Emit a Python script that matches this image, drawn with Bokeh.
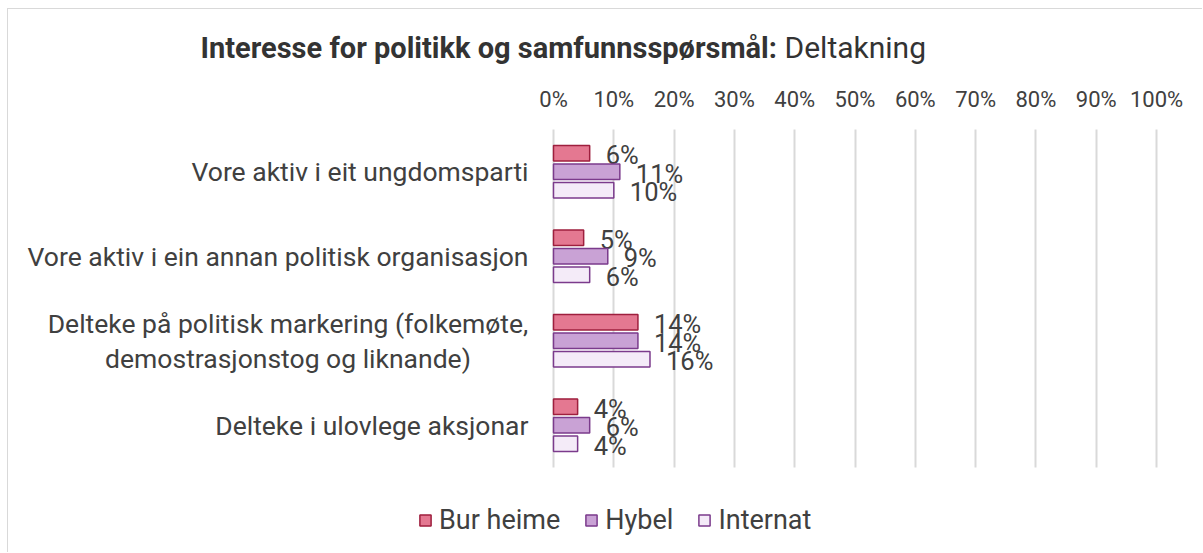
from bokeh.plotting import figure
from bokeh.models import (Range1d, FixedTicker, PrintfTickFormatter, Label,
                          ColumnDataSource, Legend, LegendItem)
from bokeh.transform import dodge
from bokeh.core.properties import value
from bokeh.embed import file_html
from bokeh.resources import INLINE

# ---- data ----
categories = [
    "Vore aktiv i eit ungdomsparti",
    "Vore aktiv i ein annan politisk organisasjon",
    "Delteke på politisk markering (folkemøte,\ndemostrasjonstog og liknande)",
    "Delteke i ulovlege aksjonar",
]
series_names = ["Bur heime", "Hybel", "Internat"]
bur_heime = [6, 5, 14, 4]
hybel = [11, 9, 14, 6]
internat = [10, 6, 16, 4]
x_ticks = [0, 10, 20, 30, 40, 50, 60, 70, 80, 90, 100]
title_bold = "Interesse for politikk og samfunnsspørsmål:"
title_rest = "Deltakning"

FONT = "Roboto"
TXT = "#404040"

n = len(categories)
ypos = [n - 1 - i for i in range(n)]  # first category on top

p = figure(width=1195, height=544, output_backend="svg", toolbar_location=None,
           x_range=Range1d(-90.38, 107.79), y_range=Range1d(-1.518, 4.920),
           x_axis_location="above",
           min_border_left=0, min_border_right=0, min_border_top=0, min_border_bottom=0)
p.styles = {"margin-left": "7px", "margin-top": "8px",
            "border-left": "1px solid #d9d9d9", "border-top": "1px solid #d9d9d9"}
p.outline_line_color = None
p.background_fill_color = "white"
p.border_fill_color = "white"

# axes
xa = p.xaxis[0]
xa.fixed_location = n - 0.5
xa.ticker = FixedTicker(ticks=x_ticks)
xa.formatter = PrintfTickFormatter(format="%d%%")
xa.axis_line_color = None
xa.major_tick_line_color = None
xa.minor_tick_line_color = None
xa.major_tick_out = 0
xa.major_label_text_font = FONT
xa.major_label_text_font_size = "22px"
xa.major_label_text_color = TXT
xa.major_label_standoff = 17

# single-line category labels on the axis; multi-line ones drawn centred beside it
ya = p.yaxis[0]
ya.fixed_location = 0
ya.ticker = FixedTicker(ticks=ypos)
ya.major_label_overrides = {y: ("" if "\n" in c else c) for y, c in zip(ypos, categories)}
ya.axis_line_color = None
ya.major_tick_line_color = None
ya.minor_tick_line_color = None
ya.major_tick_out = 0
ya.major_label_text_font = FONT
ya.major_label_text_font_size = "26.5px"
ya.major_label_text_color = TXT
ya.major_label_standoff = 25

for y, c in zip(ypos, categories):
    if "\n" in c:
        p.add_layout(Label(x=0, y=y, text=c, x_offset=-265.5, y_offset=0,
                           text_font=FONT, text_font_size="26.5px", text_color=TXT,
                           text_align="center", text_baseline="middle",
                           text_line_height=1.13))

p.ygrid.grid_line_color = None
p.xgrid.ticker = FixedTicker(ticks=x_ticks)
p.xgrid.grid_line_color = "#d9d9d9"
p.xgrid.grid_line_width = 2
p.xgrid.cross_bounds = (-0.5, n - 0.5)

src = ColumnDataSource(dict(y=ypos, bur=bur_heime, hyb=hybel, intn=internat,
                            bur_l=[f"{v}%" for v in bur_heime],
                            hyb_l=[f"{v}%" for v in hybel],
                            intn_l=[f"{v}%" for v in internat]))

specs = [
    ("bur", 0.219, "#E47891", "#9E1F3E"),
    ("hyb", 0.0, "#C9A2D5", "#7B3B8C"),
    ("intn", -0.219, "#F4EBF8", "#7B3B8C"),
]
renderers = []
for col, off, fill, line in specs:
    r = p.hbar(y=dodge("y", off), right=col, left=0, height=0.185,
               source=src, fill_color=fill, line_color=line, line_width=1.5)
    renderers.append(r)
    p.text(x=col, y=dodge("y", off), text=col + "_l", source=src,
           x_offset=16, y_offset=2, text_align="left", text_baseline="middle",
           text_font=value(FONT), text_font_size="25.5px", text_color=TXT)

legend = Legend(items=[LegendItem(label=s, renderers=[r]) for s, r in zip(series_names, renderers)],
                orientation="horizontal", location=(410, 17),
                glyph_width=14, glyph_height=14, label_standoff=7, spacing=24,
                padding=0, margin=0, border_line_color=None, background_fill_alpha=0,
                label_text_font=FONT, label_text_font_size="27px", label_text_color=TXT)
p.add_layout(legend, "center")

t1 = Label(x=192, y=506, x_units="screen", y_units="screen", text=title_bold,
           text_font=FONT, text_font_style="bold", text_font_size="29px",
           text_color="#333333", text_baseline="middle", text_align="left")
t2 = Label(x=776, y=506, x_units="screen", y_units="screen", text=title_rest,
           text_font=FONT, text_font_size="30px",
           text_color="#333333", text_baseline="middle", text_align="left")
p.add_layout(t1)
p.add_layout(t2)

open("out.html", "w").write(file_html(p, INLINE))
